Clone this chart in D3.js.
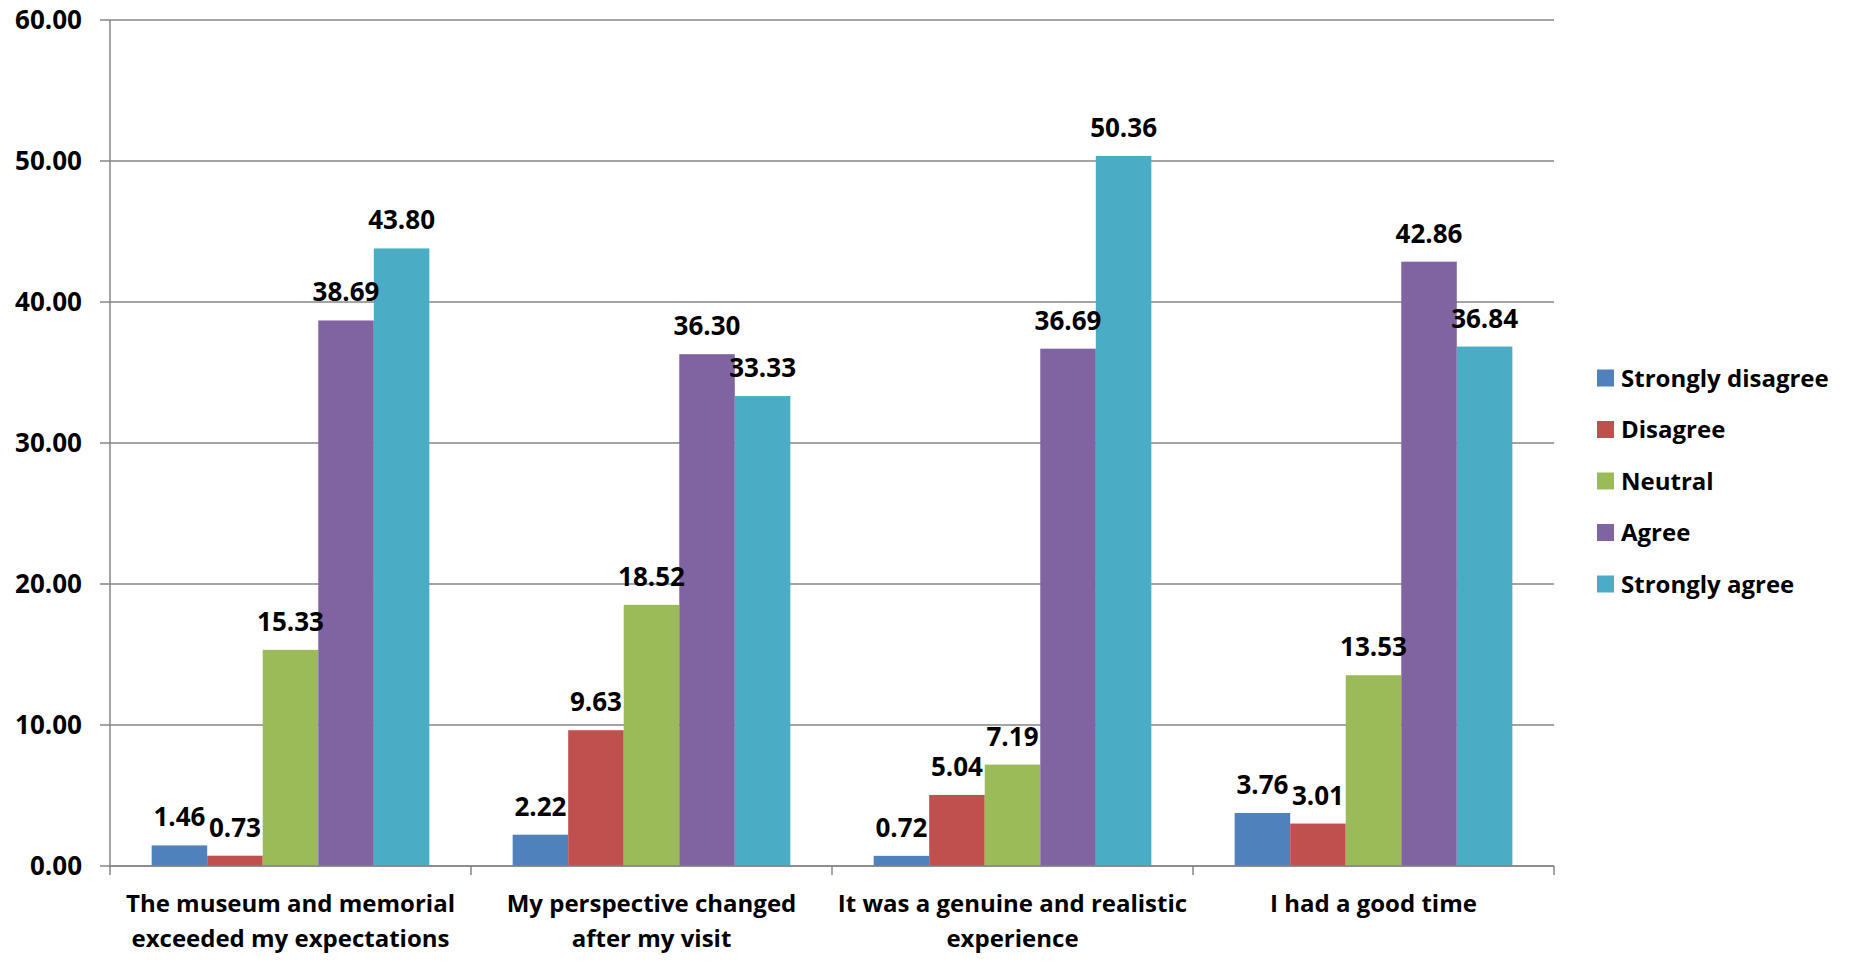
<!DOCTYPE html>
<html>
<head>
<meta charset="utf-8">
<script src="https://cdn.jsdelivr.net/npm/d3@7"></script>
<style>
  html, body { margin: 0; padding: 0; background: #fff; }
  svg { display: block; font-family: "Open Sans", "Noto Sans", sans-serif; font-weight: 700; }
</style>
</head>
<body>
<svg id="chart" width="1850" height="970"></svg>
<script>
// Survey statements (x categories)
const categories = [
  ["The museum and memorial", "exceeded my expectations"],
  ["My perspective changed", "after my visit"],
  ["It was a genuine and realistic", "experience"],
  ["I had a good time"]
];
// Response options (series)
const seriesNames = ["Strongly disagree", "Disagree", "Neutral", "Agree", "Strongly agree"];
const seriesColors = ["#4F81BD", "#C0504D", "#9BBB59", "#8064A2", "#4BACC6"];
// Percentages per series, one value per category
const stronglyDisagree = [1.46, 2.22, 0.72, 3.76];
const disagree         = [0.73, 9.63, 5.04, 3.01];
const neutral          = [15.33, 18.52, 7.19, 13.53];
const agree            = [38.69, 36.30, 36.69, 42.86];
const stronglyAgree    = [43.80, 33.33, 50.36, 36.84];
const seriesValues = [stronglyDisagree, disagree, neutral, agree, stronglyAgree];
const yTicks = [0, 10, 20, 30, 40, 50, 60];

const svg = d3.select("#chart");
const plot = { left: 110, right: 1554, top: 20, bottom: 866 };
const numFont = 26;
const textFont = 24;

const catIdx = d3.range(categories.length);
const x0 = d3.scaleBand().domain(catIdx).range([plot.left, plot.right]).paddingInner(0).paddingOuter(0);
// Gap width of 150% between groups: 0.75 bar width of outer padding on each side
const x1 = d3.scaleBand().domain(d3.range(seriesNames.length))
  .range([0, x0.bandwidth()]).paddingInner(0).paddingOuter(0.75);
const y = d3.scaleLinear().domain([0, 60]).range([plot.bottom, plot.top]);

// Horizontal gridlines
svg.append("g").selectAll("line").data(yTicks).join("line")
  .attr("x1", plot.left - 10).attr("x2", plot.right)
  .attr("y1", d => y(d)).attr("y2", d => y(d))
  .attr("stroke", "#868686").attr("stroke-width", 1.5);

// Y axis line and labels
svg.append("line").attr("x1", plot.left).attr("x2", plot.left)
  .attr("y1", plot.top).attr("y2", plot.bottom)
  .attr("stroke", "#868686").attr("stroke-width", 1.5);
svg.append("g").selectAll("text").data(yTicks).join("text")
  .attr("x", plot.left - 28).attr("y", d => y(d))
  .attr("dy", "0.36em").attr("text-anchor", "end")
  .attr("font-size", numFont).attr("fill", "#000")
  .text(d => d3.format(".2f")(d));

// Bars
const groups = svg.append("g").selectAll("g").data(catIdx).join("g")
  .attr("transform", c => `translate(${x0(c)},0)`);
groups.selectAll("rect")
  .data(c => seriesValues.map((vals, s) => ({ s, v: vals[c] })))
  .join("rect")
  .attr("x", d => x1(d.s)).attr("width", x1.bandwidth())
  .attr("y", d => y(d.v)).attr("height", d => y(0) - y(d.v))
  .attr("fill", d => seriesColors[d.s]);
// Value labels
groups.selectAll("text")
  .data(c => seriesValues.map((vals, s) => ({ s, v: vals[c] })))
  .join("text")
  .attr("x", d => x1(d.s) + x1.bandwidth() / 2)
  .attr("y", d => y(d.v) - 19)
  .attr("text-anchor", "middle").attr("font-size", numFont).attr("fill", "#000")
  .text(d => d3.format(".2f")(d.v));

// X axis line and tick marks at category boundaries
svg.append("line").attr("x1", plot.left).attr("x2", plot.right)
  .attr("y1", plot.bottom).attr("y2", plot.bottom)
  .attr("stroke", "#868686").attr("stroke-width", 1.5);
svg.append("g").selectAll("line").data(d3.range(categories.length + 1)).join("line")
  .attr("x1", i => plot.left + i * x0.bandwidth()).attr("x2", i => plot.left + i * x0.bandwidth())
  .attr("y1", plot.bottom).attr("y2", plot.bottom + 9)
  .attr("stroke", "#868686").attr("stroke-width", 1.5);

// Category labels
const catLabels = svg.append("g").selectAll("text").data(catIdx).join("text")
  .attr("x", c => x0(c) + x0.bandwidth() / 2)
  .attr("y", 912)
  .attr("text-anchor", "middle").attr("font-size", textFont).attr("fill", "#000");
catLabels.selectAll("tspan").data(c => categories[c]).join("tspan")
  .attr("x", function () { return this.parentNode.getAttribute("x"); })
  .attr("dy", (d, i) => i === 0 ? 0 : 35)
  .text(d => d);

// Legend
const legend = svg.append("g").selectAll("g").data(seriesNames).join("g")
  .attr("transform", (d, i) => `translate(1597, ${378 + i * 51.5})`);
legend.append("rect").attr("x", 0).attr("y", -8.5).attr("width", 17).attr("height", 17)
  .attr("fill", (d, i) => seriesColors[i]);
legend.append("text").attr("x", 24).attr("y", 0).attr("dy", "0.36em")
  .attr("font-size", textFont).attr("fill", "#000").text(d => d);
</script>
</body>
</html>
